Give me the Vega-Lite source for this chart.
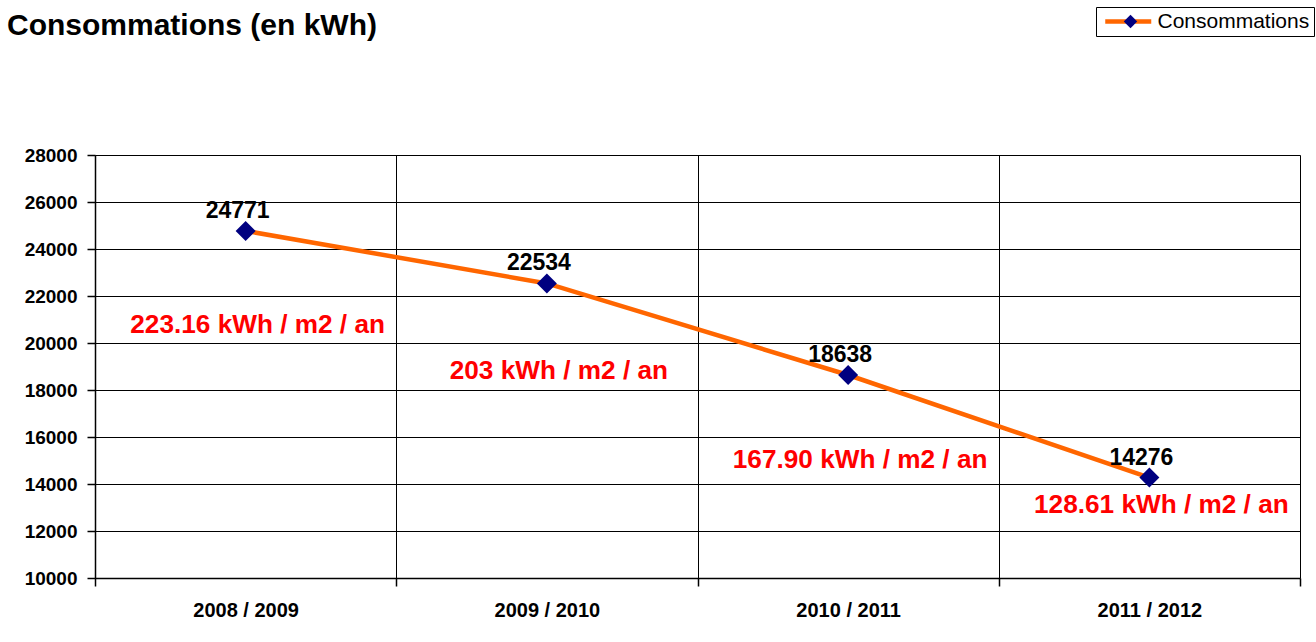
{
  "$schema": "https://vega.github.io/schema/vega-lite/v6.json",
  "width": 1205,
  "height": 423,
  "autosize": {"type": "none"},
  "padding": {"left": 95, "top": 155, "right": 16, "bottom": 64},
  "background": "white",
  "title": {
    "text": "Consommations (en kWh)",
    "anchor": "start",
    "frame": "group",
    "font": "Liberation Sans",
    "fontSize": 30,
    "fontWeight": "bold",
    "color": "black",
    "baseline": "alphabetic",
    "dx": -88,
    "offset": -58
  },
  "datasets": {
    "conso": [
      {"periode": "2008 / 2009", "consommation": 24771, "serie": "Consommations"},
      {"periode": "2009 / 2010", "consommation": 22534, "serie": "Consommations"},
      {"periode": "2010 / 2011", "consommation": 18638, "serie": "Consommations"},
      {"periode": "2011 / 2012", "consommation": 14276, "serie": "Consommations"}
    ],
    "ratios": [
      {"periode": "2008 / 2009", "ratio": "223.16 kWh / m2 / an", "niveau": 20425},
      {"periode": "2009 / 2010", "ratio": "203 kWh / m2 / an", "niveau": 18489},
      {"periode": "2010 / 2011", "ratio": "167.90 kWh / m2 / an", "niveau": 14668},
      {"periode": "2011 / 2012", "ratio": "128.61 kWh / m2 / an", "niveau": 12757}
    ]
  },
  "encoding": {
    "x": {
      "field": "periode",
      "type": "nominal",
      "sort": null,
      "scale": {"type": "band", "paddingInner": 0, "paddingOuter": 0},
      "axis": {
        "title": null,
        "labelAngle": 0,
        "tickBand": "extent",
        "grid": true,
        "gridColor": "black",
        "gridWidth": 1,
        "gridOpacity": 1,
        "domainColor": "black",
        "domainWidth": 1.5,
        "tickColor": "black",
        "tickSize": 8,
        "tickWidth": 1.5,
        "labelFont": "Liberation Sans",
        "labelFontSize": 20,
        "labelFontWeight": "bold",
        "labelColor": "black",
        "labelPadding": 14
      }
    }
  },
  "layer": [
    {
      "data": {"name": "conso"},
      "mark": {"type": "line", "strokeWidth": 4.5},
      "encoding": {
        "y": {
          "field": "consommation",
          "type": "quantitative",
          "scale": {"domain": [10000, 28000], "nice": false, "zero": false},
          "axis": {
            "title": null,
            "values": [10000, 12000, 14000, 16000, 18000, 20000, 22000, 24000, 26000, 28000],
            "format": "d",
            "grid": true,
            "gridColor": "black",
            "gridWidth": 1,
            "gridOpacity": 1,
            "domainColor": "black",
            "domainWidth": 1.5,
            "tickColor": "black",
            "tickSize": 8,
            "tickWidth": 1.5,
            "labelFont": "Liberation Sans",
            "labelFontSize": 19,
            "labelFontWeight": "bold",
            "labelColor": "black",
            "labelPadding": 10
          }
        },
        "color": {
          "field": "serie",
          "type": "nominal",
          "scale": {"range": ["#FF6600"]},
          "legend": {
            "title": null,
            "orient": "none",
            "legendX": 1001,
            "legendY": -148,
            "symbolType": "M-3.286,0H3.286",
            "symbolSize": 196,
            "symbolStrokeWidth": 4.5,
            "symbolOffset": 17.75,
            "strokeColor": "black",
            "fillColor": "white",
            "padding": 4,
            "labelFont": "Liberation Sans",
            "labelFontSize": 21,
            "labelColor": "black",
            "labelOffset": 18.75,
            "labelLimit": 400
          }
        }
      }
    },
    {
      "data": {"name": "conso"},
      "mark": {"type": "point", "shape": "diamond", "filled": true, "size": 400, "opacity": 1, "strokeWidth": 0},
      "encoding": {
        "y": {"field": "consommation", "type": "quantitative"},
        "fill": {
          "field": "serie",
          "type": "nominal",
          "scale": {"domain": ["Consommations"], "range": ["#000080"]},
          "legend": {
            "title": null,
            "orient": "none",
            "legendX": 1025,
            "legendY": -144,
            "symbolType": "diamond",
            "symbolSize": 180,
            "symbolStrokeWidth": 0,
            "symbolOpacity": 1,
            "padding": 0,
            "labelFont": "Liberation Sans",
            "labelFontSize": 21,
            "labelOpacity": 0,
            "labelLimit": 400
          }
        }
      }
    },
    {
      "data": {"name": "conso"},
      "mark": {"type": "text", "font": "Liberation Sans", "fontSize": 23, "fontWeight": "bold", "color": "black", "baseline": "alphabetic", "dx": -8, "dy": -13},
      "encoding": {
        "y": {"field": "consommation", "type": "quantitative"},
        "text": {"field": "consommation", "type": "quantitative", "format": "d"}
      }
    },
    {
      "data": {"name": "ratios"},
      "mark": {"type": "text", "font": "Liberation Sans", "fontSize": 26.2, "fontWeight": "bold", "color": "#FF0000", "baseline": "alphabetic", "dx": 12},
      "encoding": {
        "y": {"field": "niveau", "type": "quantitative"},
        "text": {"field": "ratio", "type": "nominal"}
      }
    }
  ]
}
